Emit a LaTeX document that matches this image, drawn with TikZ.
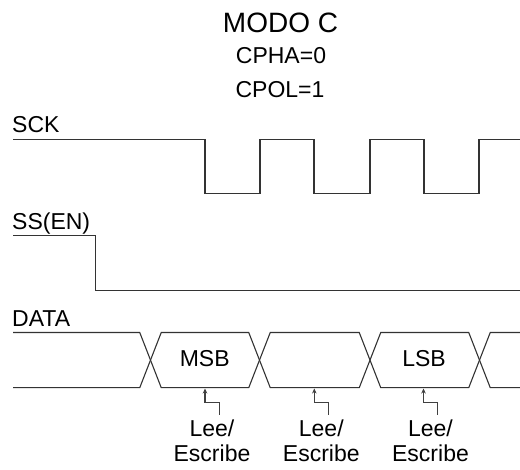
\documentclass[tikz,border=0pt]{standalone}
\usepackage{fontspec}
\setmainfont{Liberation Sans}
\usetikzlibrary{arrows.meta,calc}
\begin{document}
\begin{tikzpicture}[x=1pt,y=-1pt,
  wave/.style={draw=black!80,line width=1.1pt,line join=miter},
  lbl/.style={inner sep=0pt,anchor=base west,font=\fontsize{23}{25}\selectfont},
  ctr/.style={inner sep=0pt,anchor=base,font=\fontsize{23}{25}\selectfont},
  rw/.style={inner sep=0pt,anchor=base,align=center,font=\fontsize{23}{25}\selectfont},
  ptr/.style={draw=black!75,line width=1.3pt,-{Stealth[length=5pt,width=4.5pt]}}]
\useasboundingbox (0,0) rectangle (520,470);
% titles
\node[inner sep=0pt,anchor=base,font=\fontsize{28}{30}\selectfont] (title) at (280.5,32.7) {MODO C};
\node[ctr] (cpha) at (281,63.3) {CPHA=0};
\node[ctr] (cpol) at (280,97.7) {CPOL=1};
% signal labels
\node[lbl] (sck) at (12,132.7) {SCK};
\node[lbl] (ss) at (12,230) {SS(EN)};
\node[lbl] (data) at (12,326.7) {DATA};
% SCK
\draw[wave] (13,139.3) -- (205,139.3) -- (205,193.7) -- (260,193.7) -- (260,139.3) -- (314,139.3) -- (314,193.7) -- (370,193.7) -- (370,139.3) -- (424,139.3) -- (424,193.7) -- (479,193.7) -- (479,139.3) -- (520,139.3);
% SS
\draw[wave] (13,235.7) -- (95.7,235.7) -- (95.7,290.7) -- (520,290.7);
% DATA
\def\yT{332.5}\def\yB{387.7}\def\h{10.75}
\draw[wave] (13,\yT) -- (150.5-\h,\yT) -- (150.5+\h,\yB) -- (259.5-\h,\yB) -- (259.5+\h,\yT) -- (370-\h,\yT) -- (370+\h,\yB) -- (479.5-\h,\yB) -- (479.5+\h,\yT) -- (520,\yT);
\draw[wave] (13,\yB) -- (150.5-\h,\yB) -- (150.5+\h,\yT) -- (259.5-\h,\yT) -- (259.5+\h,\yB) -- (370-\h,\yB) -- (370+\h,\yT) -- (479.5-\h,\yT) -- (479.5+\h,\yB) -- (520,\yB);
\node[ctr] (msb) at (204.7,366.7) {MSB};
\node[ctr] (lsb) at (424,366.7) {LSB};
% read/write markers
\coordinate (p1) at (205,388.5);
\coordinate (p2) at (314.3,388.5);
\coordinate (p3) at (423.5,388.5);
\node[rw] (rw1) at (212,461.7) {Lee/\\Escribe};
\node[rw] (rw2) at (321.3,461.7) {Lee/\\Escribe};
\node[rw] (rw3) at (430.5,461.7) {Lee/\\Escribe};
\foreach \p in {p1,p2,p3}{
  \draw[ptr] ($(\p)+(14.3,26.5)$) -- ++(0,-12.3) -- ($(\p)+(0,14.2)$) -- (\p);
}
\end{tikzpicture}
\end{document}
